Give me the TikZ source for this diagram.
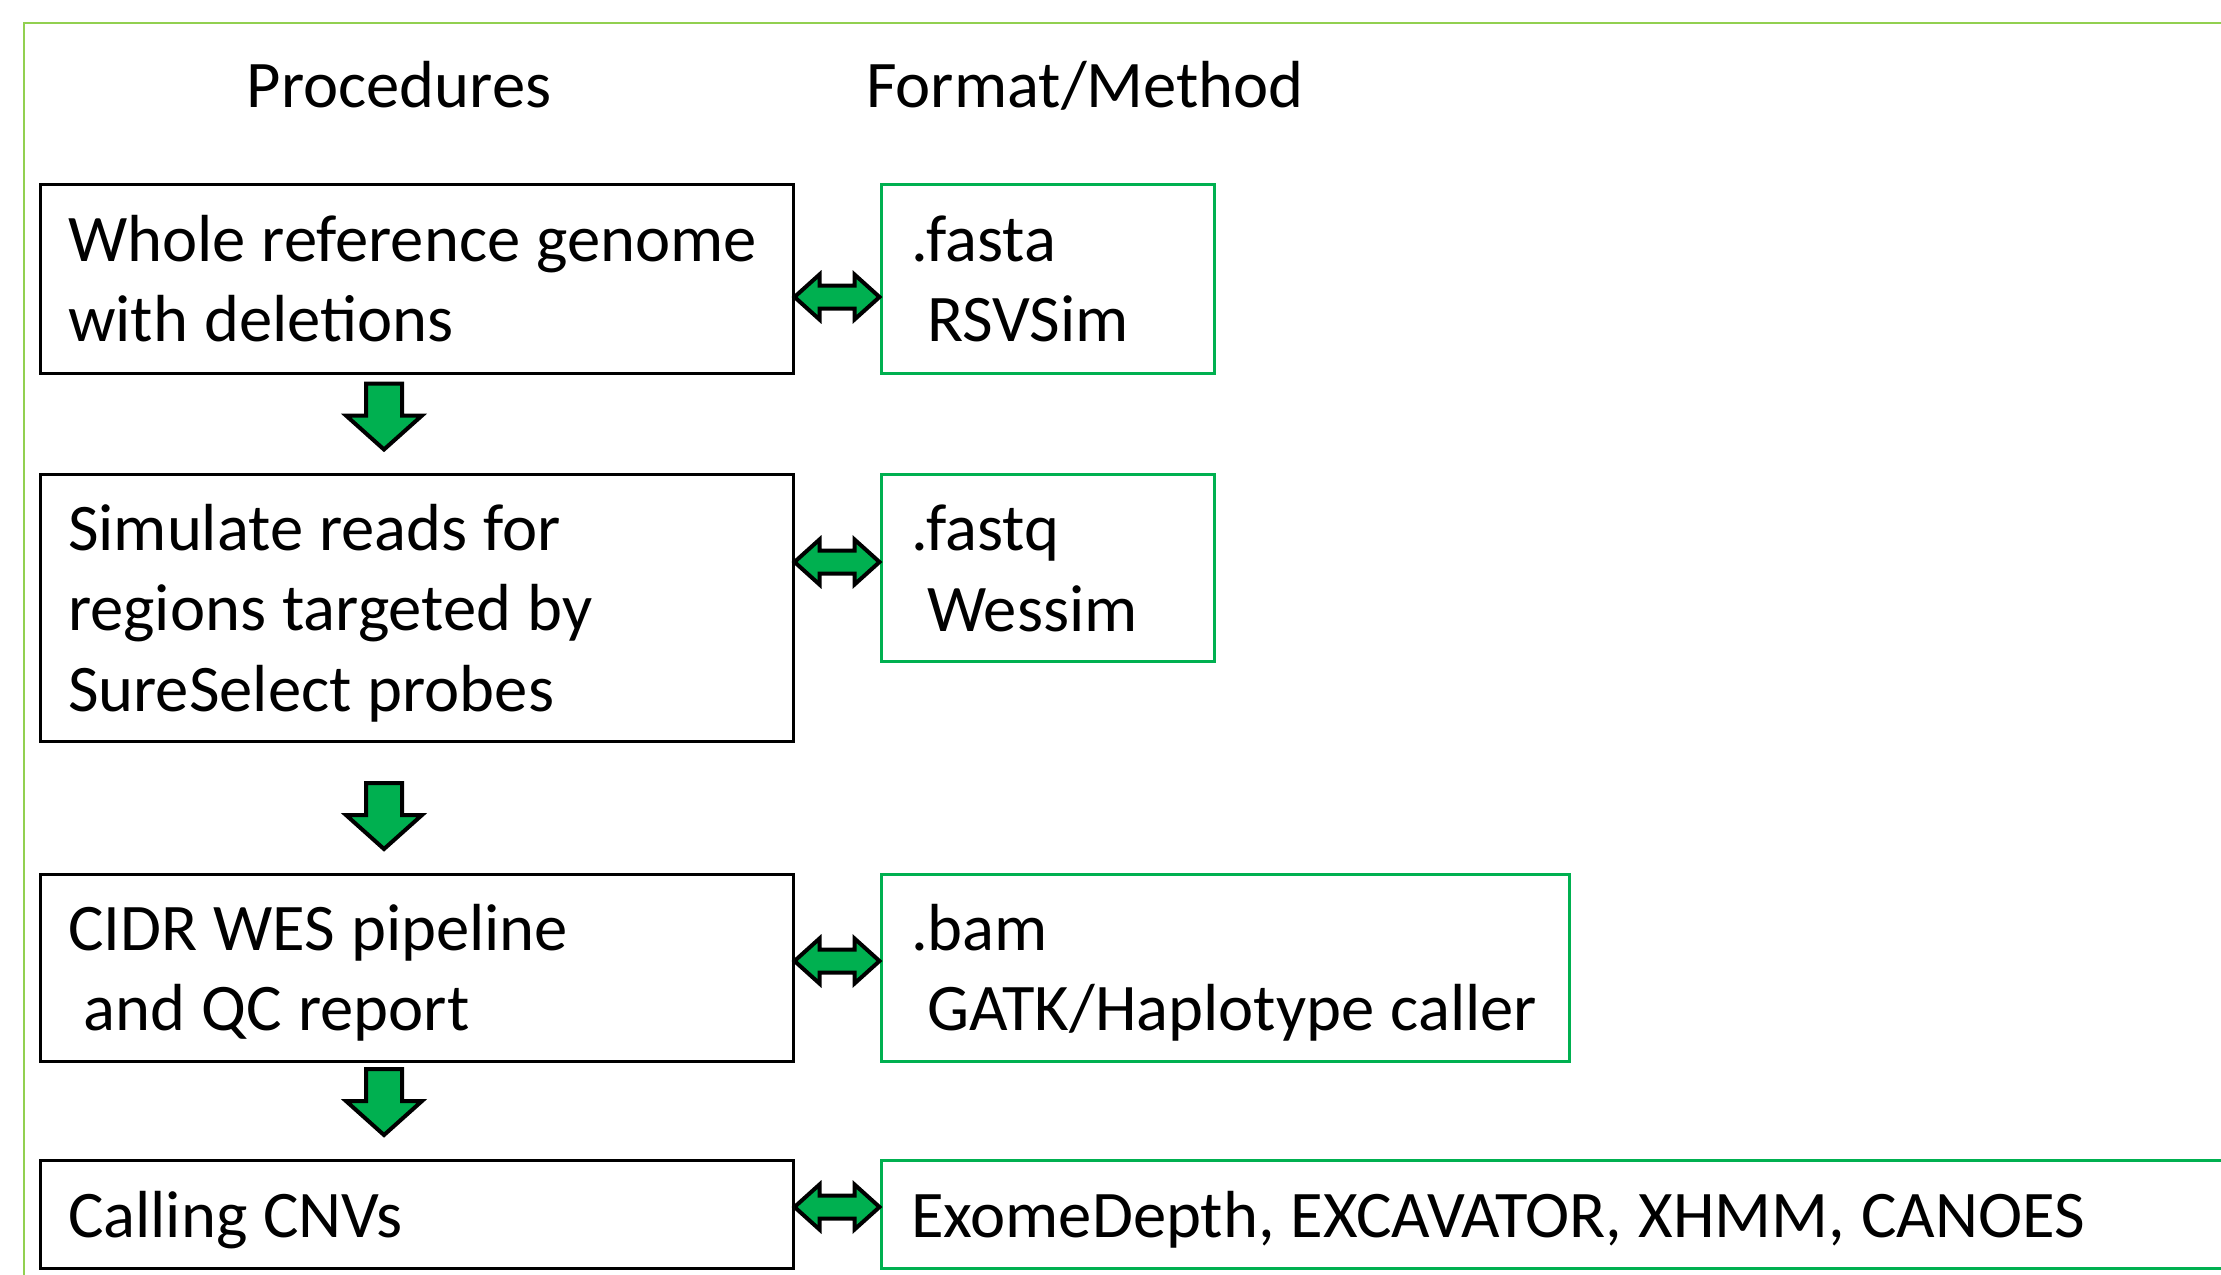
\documentclass[tikz,border=0pt]{standalone}
\usepackage{fontspec}
\setmainfont{Carlito}
\usetikzlibrary{calc}
\definecolor{frameg}{HTML}{92D050}
\definecolor{boxg}{HTML}{00B050}
\newcommand{\nodefont}{\fontsize{33.3}{40.3}\selectfont}
\newcommand{\nd}[1]{\raisebox{0pt}[\height][0pt]{#1}}
\newcommand{\downblk}[1]{%
  \draw[blockarrow] #1 -- ++(-38,-34) -- ++(20,0) -- ++(0,-32) -- ++(36,0) -- ++(0,32) -- ++(20,0) -- cycle;}
\newcommand{\dblblk}[2]{%
  \draw[blockarrow] let \p1=#1, \p2=#2, \n1={\x2-\x1-25pt} in
    (\p1) -- ++(25,-22.5) -- ++(0,11) -- ++(\n1,0) -- ++(0,-11) -- ++(25,22.5)
    -- ++(-25,22.5) -- ++(0,-11) -- ++(-\n1,0) -- ++(0,11) -- cycle;}
\begin{document}
\begin{tikzpicture}[x=0.5pt,y=-0.5pt,
  every node/.style={font=\nodefont, execute at begin node={\spaceskip=8pt plus 2pt\relax}},
  procbox/.style={draw=black, line width=1.5pt, minimum width=376.5pt, text width=348.5pt,
    inner xsep=14pt, inner ysep=0pt, align=left},
  fmtbox/.style={draw=boxg, line width=1.5pt, inner xsep=15pt, inner ysep=0pt, align=left},
  blockarrow/.style={fill=boxg, draw=black, line width=2pt, line join=miter},
  heading/.style={inner sep=0pt, anchor=base}
]
\useasboundingbox (0,0) rectangle (2221,1274);
\clip (0,0) rectangle (2221,1274);
\fill[white] (0,0) rectangle (2221,1274);
\draw[frameg, line width=1.2pt] (24,23) rectangle (2260,1320);

\node[heading] (hproc) at (399,107) {Procedures};
\node[heading] (hfmt) at (1085,107) {Format/Method};

\node[procbox, minimum height=94.5pt] (p1) at (416.5,278.5) {Whole reference genome\\\nd{with deletions}};
\node[procbox, minimum height=133.25pt] (p2) at (416.5,607.75) {Simulate reads for\\regions targeted by\\\nd{SureSelect probes}};
\node[procbox, minimum height=93.5pt] (p3) at (416.5,967.5) {CIDR WES pipeline\\\hspace*{8pt}\nd{and QC report}};
\node[procbox, minimum height=54pt] (p4) at (416.5,1214) {\nd{Calling CNVs}};

\node[fmtbox, minimum width=166.5pt, minimum height=94.5pt, text width=136.5pt] (f1) at (1047.5,278.5) {.fasta\\\hspace*{8pt}\nd{RSVSim}};
\node[fmtbox, minimum width=166.5pt, minimum height=93.5pt, text width=136.5pt] (f2) at (1047.5,568) {.fastq\\\hspace*{8pt}\nd{Wessim}};
\node[fmtbox, minimum width=344pt, minimum height=93.5pt, text width=314pt] (f3) at (1225,967.5) {.bam\\\hspace*{8pt}\nd{GATK/Haplotype caller}};
\node[fmtbox, minimum width=679.5pt, minimum height=54pt, text width=649.5pt] (f4) at (1560.5,1214) {\nd{ExomeDepth, EXCAVATOR, XHMM, CANOES}};

\downblk{($(p2.north)+(-32.5,-23.5)$)}
\downblk{($(p3.north)+(-32.5,-23.5)$)}
\downblk{($(p4.north)+(-32.5,-23.5)$)}

\dblblk{($(p1.east |- 0,297)$)}{($(f1.west |- 0,297)$)}
\dblblk{($(p2.east |- 0,562)$)}{($(f2.west |- 0,562)$)}
\dblblk{($(p3.east |- 0,961)$)}{($(f3.west |- 0,961)$)}
\dblblk{($(p4.east |- 0,1207)$)}{($(f4.west |- 0,1207)$)}
\end{tikzpicture}
\end{document}
